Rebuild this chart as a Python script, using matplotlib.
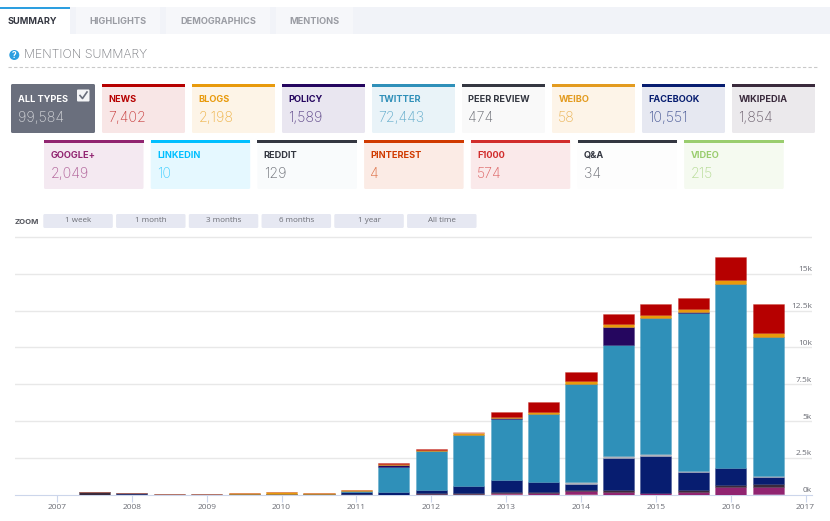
import matplotlib
matplotlib.use("Agg")
import matplotlib.pyplot as plt
import numpy as np
from matplotlib.patches import FancyBboxPatch, Rectangle, Circle
from matplotlib.colors import to_rgba

W, H = 830, 521

tab_names = ["SUMMARY", "HIGHLIGHTS", "DEMOGRAPHICS", "MENTIONS"]
zoom_names = ["1 week", "1 month", "3 months", "6 months", "1 year", "All time"]

row1_names = ["ALL TYPES", "NEWS", "BLOGS", "POLICY", "TWITTER", "PEER REVIEW", "WEIBO", "FACEBOOK", "WIKIPEDIA"]
row1_counts = ["99,584", "7,402", "2,198", "1,589", "72,443", "474", "58", "10,551", "1,854"]
row2_names = ["GOOGLE+", "LINKEDIN", "REDDIT", "PINTEREST", "F1000", "Q&A", "VIDEO"]
row2_counts = ["2,049", "10", "129", "4", "574", "34", "215"]

years = [2007, 2007.5, 2008, 2008.5, 2009, 2009.5, 2010, 2010.5, 2011, 2011.5,
         2012, 2012.5, 2013, 2013.5, 2014, 2014.5, 2015, 2015.5, 2016, 2016.5]
f1000 = [0, 0, 0, 0, 0, 0, 0, 0, 0, 0, 0, 45, 70, 0, 70, 0, 0, 0, 0, 0]
video = [0, 0, 0, 0, 0, 0, 0, 0, 0, 0, 0, 0, 0, 0, 0, 0, 0, 0, 0, 50]
google = [0, 0, 0, 0, 0, 0, 0, 0, 10, 10, 90, 45, 40, 110, 200, 230, 110, 200, 540, 480]
wikipedia = [10, 190, 100, 20, 20, 70, 60, 70, 30, 20, 45, 45, 70, 70, 90, 100, 20, 130, 130, 200]
facebook = [0, 0, 10, 10, 10, 10, 20, 10, 130, 180, 180, 450, 840, 700, 380, 2150, 2490, 1240, 1180, 500]
peer = [20, 5, 5, 25, 10, 5, 20, 5, 30, 5, 10, 10, 10, 10, 150, 150, 180, 40, 10, 60]
twitter = [0, 0, 0, 0, 0, 0, 0, 0, 50, 1650, 2670, 3480, 4090, 4590, 6650, 7500, 9180, 10730, 12430, 9420]
policy = [0, 0, 0, 0, 0, 0, 0, 0, 0, 180, 5, 5, 90, 5, 5, 1240, 40, 50, 5, 5]
blogs = [0, 0, 0, 10, 30, 70, 70, 70, 70, 70, 80, 90, 90, 160, 200, 200, 200, 220, 270, 250]
news = [0, 0, 0, 0, 0, 0, 0, 0, 0, 70, 50, 0, 340, 680, 560, 720, 700, 770, 1540, 1970]
pinterest = [0, 0, 0, 0, 10, 0, 0, 0, 0, 0, 0, 110, 0, 0, 0, 0, 0, 0, 0, 0]

series = [f1000, video, google, wikipedia, facebook, peer, twitter, policy, blogs, news, pinterest]
series_colors = ["#e8746f", "#b9b4d8", "#912470", "#3a2a3c", "#071d70", "#b0b2bc", "#2f90b9",
                 "#25065f", "#e89a0c", "#b60000", "#e89a80"]

row1_colors = ["#6a6f7d", "#b60000", "#e89a0c", "#25065f", "#2f90b9", "#343741", "#e39b1f", "#071d70", "#3a2a3c"]
row1_fills = ["#6a6f7d", "#f8e6e6", "#fdf4e7", "#e9e6f0", "#e9f3f8", "#f9f9f9", "#fdf4e8", "#e6e8f1", "#ebe9ec"]
row2_colors = ["#912470", "#00bfff", "#343741", "#d03a00", "#d12c2c", "#343741", "#9acd6e"]
row2_fills = ["#f4e9f1", "#e5f8ff", "#f9fbfc", "#fbebe5", "#fae9ea", "#fdfdfd", "#f5faf0"]

plt.rcParams["font.family"] = ["Inter", "DejaVu Sans"]

fig = plt.figure(figsize=(W / 100, H / 100), dpi=100, facecolor="white")
bg = fig.add_axes([0, 0, 1, 1])
bg.set_xlim(0, W)
bg.set_ylim(H, 0)
bg.axis("off")


def box(x0, y0, x1, y1, color, r=1.5, z=1):
    bg.add_patch(FancyBboxPatch((x0 + r, y0 + r), x1 - x0 - 2 * r, y1 - y0 - 2 * r,
                                boxstyle=f"round,pad={r},rounding_size={r}",
                                fc=color, ec="none", zorder=z))


# tabs
bg.add_patch(Rectangle((0, 7), W, 27, fc="#f1f3f8", ec="none"))
tab_edges = [(0, 70), (76, 160), (166, 270), (276, 353)]
for i, (name, (x0, x1)) in enumerate(zip(tab_names, tab_edges)):
    bg.add_patch(Rectangle((x0, 7), x1 - x0, 27, fc="white" if i == 0 else "#f6f7fa", ec="none", zorder=2))
    bg.text((x0 + x1) / 2 + (0 if i else -3), 21, name, fontsize=6.6, fontweight="bold",
            color="#343741" if i == 0 else "#9a9ca3", ha="center", va="center", zorder=3)
bg.add_patch(Rectangle((0, 7), 70, 2, fc="#2d9fe0", ec="none", zorder=3))

# heading
bg.add_patch(Circle((14.3, 55), 5, fc="#2d9fe0", ec="none"))
bg.text(14.3, 55, "?", fontsize=6, fontweight="bold", color="white", ha="center", va="center")
bg.text(24, 55, "MENTION SUMMARY", fontsize=8.9, fontweight="light", color="#77797f", va="center")
bg.plot([8, 819], [66.5, 66.5], color="#c9c9c9", lw=0.8, ls=(0, (3, 2)))


def card(x0, x1, y0, y1, name, count, color, fill, selected=False):
    box(x0, y0, x1, y1, fill)
    if not selected:
        bg.add_patch(Rectangle((x0, y0), x1 - x0, 3, fc=color, ec="none", zorder=2))
    bg.text(x0 + (7 if selected else 6.3), y0 + 15, name, fontsize=6.6, fontweight="bold",
            color="white" if selected else color, va="center", zorder=3)
    bg.text(x0 + (7 if selected else 6.3), y0 + 34.5, count, fontsize=10.2, fontweight="light",
            color="#d4d6da" if selected else color, alpha=1 if selected else 0.72, va="center", zorder=3)


for i in range(9):
    x0 = 11 if i == 0 else 12 + 90 * i
    card(x0, x0 + (84 if i == 0 else 83), 84, 133, row1_names[i], row1_counts[i],
         row1_colors[i], row1_fills[i], selected=i == 0)
for i in range(7):
    x0 = 44 + 106.7 * i
    card(x0, x0 + 99.5, 140, 189, row2_names[i], row2_counts[i], row2_colors[i], row2_fills[i])

# checkbox on the selected card
box(77, 89.5, 89.5, 101.5, "#f4f5f7", r=1, z=4)
bg.plot([80, 82.5, 87], [95.5, 98.5, 92], color="#6a6f7d", lw=1.2, zorder=5)

# zoom buttons
bg.text(15, 221.5, "ZOOM", fontsize=5.6, fontweight="bold", color="#55575e", va="center")
for i, name in enumerate(zoom_names):
    x0 = 43.3 + 72.75 * i
    box(x0, 214, x0 + 69.5, 228, "#e6e8f2")
    bg.text(x0 + 34.7, 220.3, name, fontsize=5.8, color="#6c6e76", ha="center", va="center",
            family=["Open Sans", "DejaVu Sans"], zorder=3)

# chart, pixel scale: 2007 at x=57, 74.86 px per year, 14.76 px per 1000
ax = fig.add_axes([15 / W, 1 - 495 / H, (812 - 15) / W, (495 - 236) / H])
ax.set_facecolor("none")
ax.set_xlim(2007 - 42 / 74.86, 2007 + (812 - 57) / 74.86)
ax.set_ylim(0, 259 / 36.9 * 2500)

bottom = np.zeros(len(years))
for values, color in zip(series, series_colors):
    values = np.array(values, dtype=float)
    ax.bar(years, values, width=0.415, bottom=bottom, color=color,
           edgecolor=to_rgba(color, 0.3), linewidth=0.6, zorder=3)
    bottom += values

for side in ["top", "right", "left"]:
    ax.spines[side].set_visible(False)
ax.spines["bottom"].set_color("#ccd6eb")
ax.spines["bottom"].set_linewidth(0.8)

ax.set_xticks(range(2007, 2018))
ax.tick_params(axis="x", length=5, width=0.8, color="#ccd6eb", labelsize=6, labelcolor="#6c6e76", pad=1.5)
for lab in ax.get_xticklabels():
    lab.set_family(["Open Sans", "DejaVu Sans"])

yticks = [2500, 5000, 7500, 10000, 12500, 15000, 17500]
ax.set_yticks(yticks)
ax.set_yticklabels([])
ax.tick_params(axis="y", length=0)
ax.grid(axis="y", color="#e8e8e8", lw=1, zorder=0)
ax.set_axisbelow(True)

ylabels = ["0k", "2.5k", "5k", "7.5k", "10k", "12.5k", "15k"]
for val, lab in zip(range(0, 17500, 2500), ylabels):
    ax.annotate(lab, (1, val), xycoords=("axes fraction", "data"), xytext=(0, 3), textcoords="offset points",
                ha="right", va="center", fontsize=6, color="#6c6e76", family=["Open Sans", "DejaVu Sans"],
                zorder=5)

fig.savefig("out.png", dpi=100)
